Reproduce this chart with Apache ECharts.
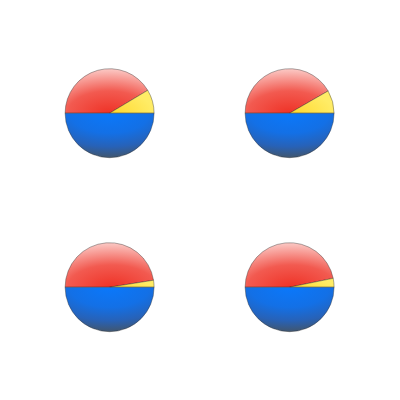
<!DOCTYPE html>
<html>
<head>
<meta charset="utf-8">
<script src="https://cdn.jsdelivr.net/npm/echarts@6/dist/echarts.min.js"></script>
<style>
  html, body { margin: 0; padding: 0; background: #fff; }
  #chart { width: 400px; height: 400px; }
</style>
</head>
<body>
<div id="chart"></div>
<script>
// slice names (same order in every pie, clockwise from the left edge)
const slices = ['Red', 'Yellow', 'Blue'];

// values in degrees of the circle
const topLeft = [149, 31, 180];
const topRight = [150, 30, 180];
const bottomLeft = [171, 9, 180];
const bottomRight = [168.5, 11.5, 180];

const pieData = [topLeft, topRight, bottomLeft, bottomRight];
const centers = [
  ['27.4%', '28.3%'], ['72.4%', '28.3%'],
  ['27.4%', '71.8%'], ['72.4%', '71.8%']
];

// shaded fills; with the svg renderer the gradient stretches over each slice's box
const fills = [
  { type: 'radial', x: 0.53, y: 1, r: 1, colorStops: [
    { offset: 0, color: '#ef3226' },
    { offset: 0.5, color: '#f25a50' },
    { offset: 1, color: '#fbcac6' }
  ] },
  { type: 'radial', x: 0, y: 1, r: 1, colorStops: [
    { offset: 0, color: '#ffd82c' },
    { offset: 1, color: '#ffec66' }
  ] },
  { type: 'radial', x: 0.5, y: 0, r: 1, colorStops: [
    { offset: 0, color: '#0a78fb' },
    { offset: 0.45, color: '#1370e6' },
    { offset: 0.75, color: '#2762b8' },
    { offset: 1, color: '#41566e' }
  ] }
];

const chart = echarts.init(document.getElementById('chart'), null, { renderer: 'svg' });

chart.setOption({
  animation: false,
  series: pieData.map((vals, i) => ({
    type: 'pie',
    center: centers[i],
    radius: 44.5,
    startAngle: 180,
    clockwise: true,
    label: { show: false },
    labelLine: { show: false },
    emphasis: { disabled: true },
    itemStyle: {
      borderColor: 'rgba(40,40,40,0.65)',
      borderWidth: 0.6
    },
    data: vals.map((v, j) => ({
      name: slices[j],
      value: v,
      itemStyle: { color: fills[j] }
    }))
  }))
});
</script>
</body>
</html>
